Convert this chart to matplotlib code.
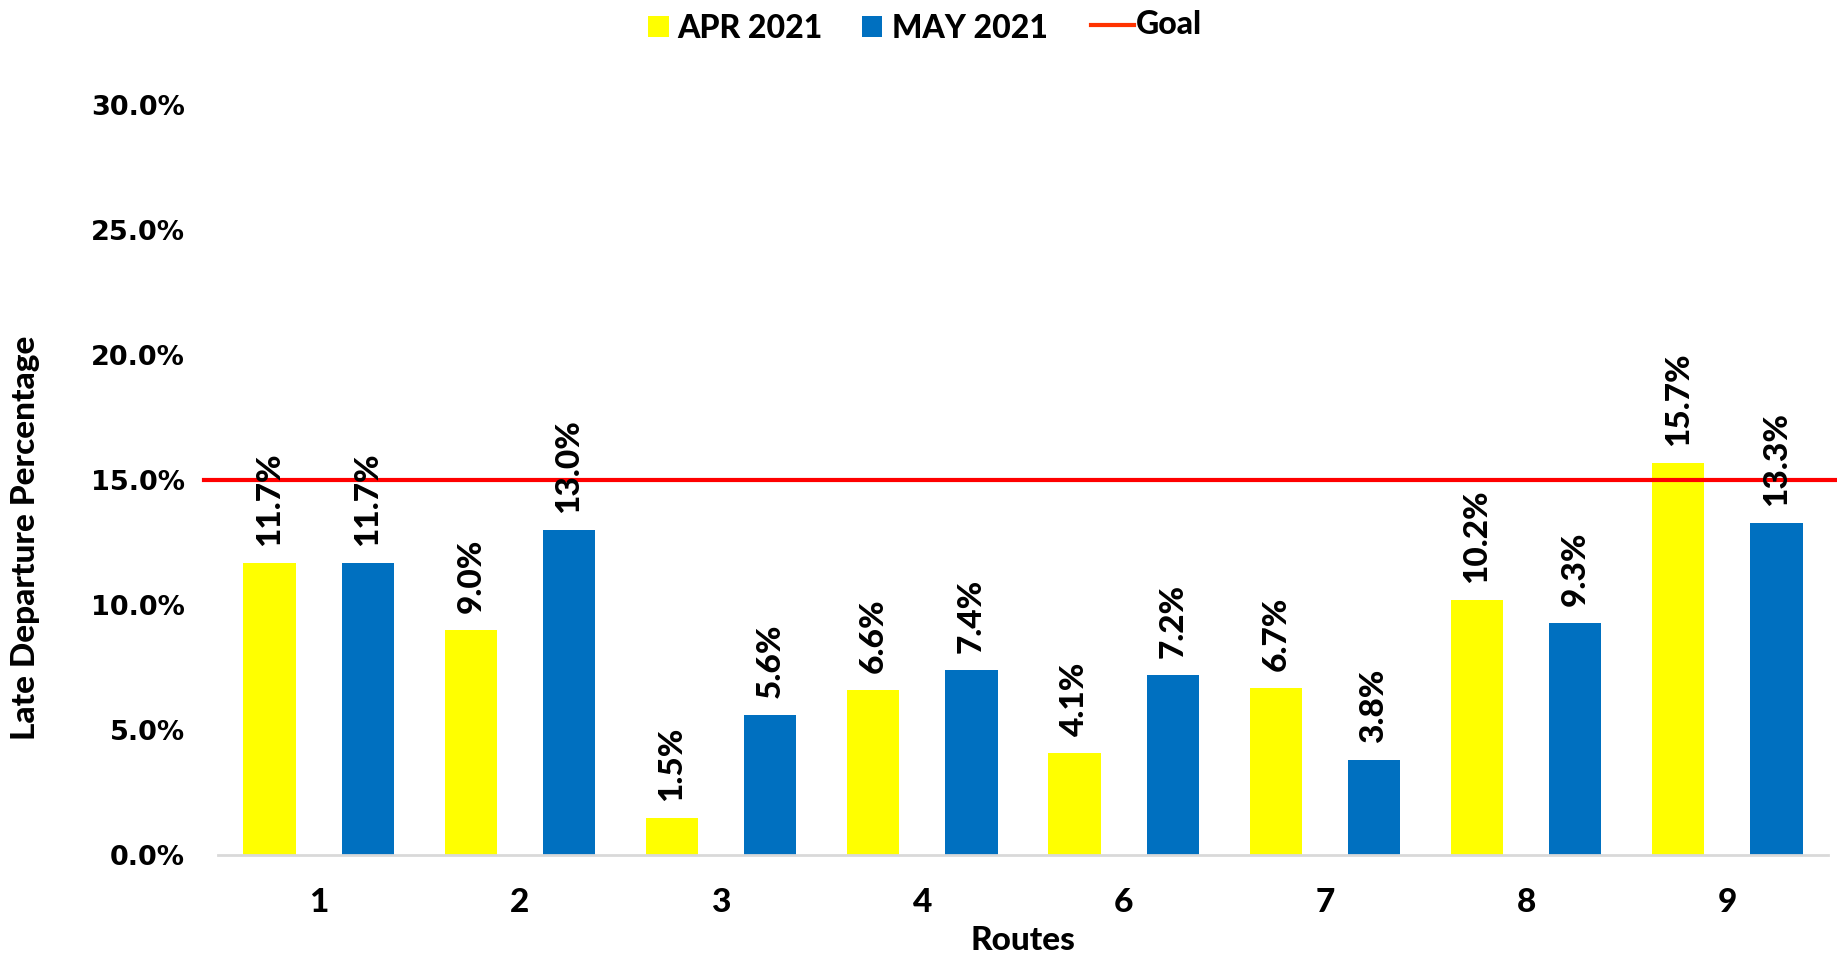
import matplotlib
matplotlib.use("Agg")
import matplotlib.pyplot as plt
import numpy as np
from matplotlib.patches import Rectangle
from matplotlib.lines import Line2D
from matplotlib.ticker import FuncFormatter

routes = ["1", "2", "3", "4", "6", "7", "8", "9"]
apr_2021 = [11.7, 9.0, 1.5, 6.6, 4.1, 6.7, 10.2, 15.7]
may_2021 = [11.7, 13.0, 5.6, 7.4, 7.2, 3.8, 9.3, 13.3]
goal = 15.0
y_ticks = [0, 5, 10, 15, 20, 25, 30]

YELLOW = "#FFFF00"
BLUE = "#0070C0"
RED = "#FF0000"
TEXT_FONT = "Lato"
WEIGHT = 900

W, H = 1837, 955
fig = plt.figure(figsize=(W / 100, H / 100), dpi=100)
ax = fig.add_axes([0.1187, 0.1047, 0.8764, 0.7853])

x = np.arange(len(routes))
w = 0.26
off = 0.244
ax.bar(x - off, apr_2021, width=w, color=YELLOW, zorder=2)
ax.bar(x + off, may_2021, width=w, color=BLUE, zorder=2)

# goal line extends a little beyond the plot area on both sides
ax.plot([-0.009, 1.0056], [goal, goal], color=RED, lw=3,
        transform=ax.get_yaxis_transform(), clip_on=False, zorder=3)

for xs, vals in ((x - off, apr_2021), (x + off, may_2021)):
    for xi, v in zip(xs, vals):
        ax.annotate(f"{v:.1f}%", (xi, v), xytext=(0, 12), textcoords="offset points",
                    rotation=90, ha="center", va="bottom", fontsize=24,
                    fontweight=WEIGHT, family=TEXT_FONT, color="black", zorder=4)

ax.set_xlim(-0.5, len(routes) - 0.5)
ax.set_ylim(0, 30)
ax.set_yticks(y_ticks)
ax.yaxis.set_major_formatter(FuncFormatter(lambda v, p: f"{v:.1f}%"))
ax.set_xticks(x)
ax.set_xticklabels(routes)

for lbl in ax.get_yticklabels():
    lbl.set_fontsize(19.5)
    lbl.set_fontweight("bold")
    lbl.set_family("DejaVu Sans")
for lbl in ax.get_xticklabels():
    lbl.set_fontsize(24)
    lbl.set_fontweight(WEIGHT)
    lbl.set_family(TEXT_FONT)

ax.tick_params(axis="y", length=0, pad=24)
ax.tick_params(axis="x", length=0, pad=24)

for s in ("top", "right", "left"):
    ax.spines[s].set_visible(False)
ax.spines["bottom"].set_color("#D9D9D9")
ax.spines["bottom"].set_linewidth(2)

ax.set_xlabel("Routes", fontsize=24, fontweight=WEIGHT, family=TEXT_FONT, labelpad=6)
fig.text(0.0140, 0.437, "Late Departure Percentage", rotation=90, ha="center", va="center",
         fontsize=24, fontweight=WEIGHT, family=TEXT_FONT)

# legend row along the top edge
def px(xp, yp):
    return xp / W, 1 - yp / H

leg_kw = dict(fontsize=23, fontweight=WEIGHT, family=TEXT_FONT, va="center", ha="left")
fig.patches.append(Rectangle(px(648, 37), 21 / W, 21 / H, facecolor=YELLOW,
                             edgecolor="none", transform=fig.transFigure))
fig.text(*px(677, 29), "APR 2021", **leg_kw)
fig.patches.append(Rectangle(px(862, 37), 20 / W, 21 / H, facecolor=BLUE,
                             edgecolor="none", transform=fig.transFigure))
fig.text(*px(892, 29), "MAY 2021", **leg_kw)
fig.lines.append(Line2D([1091 / W, 1134 / W], [1 - 25 / H, 1 - 25 / H], color="#FF3300",
                        lw=3, transform=fig.transFigure))
fig.text(*px(1136, 24), "Goal", **leg_kw)

fig.savefig("out.png", dpi=100, facecolor="white")
